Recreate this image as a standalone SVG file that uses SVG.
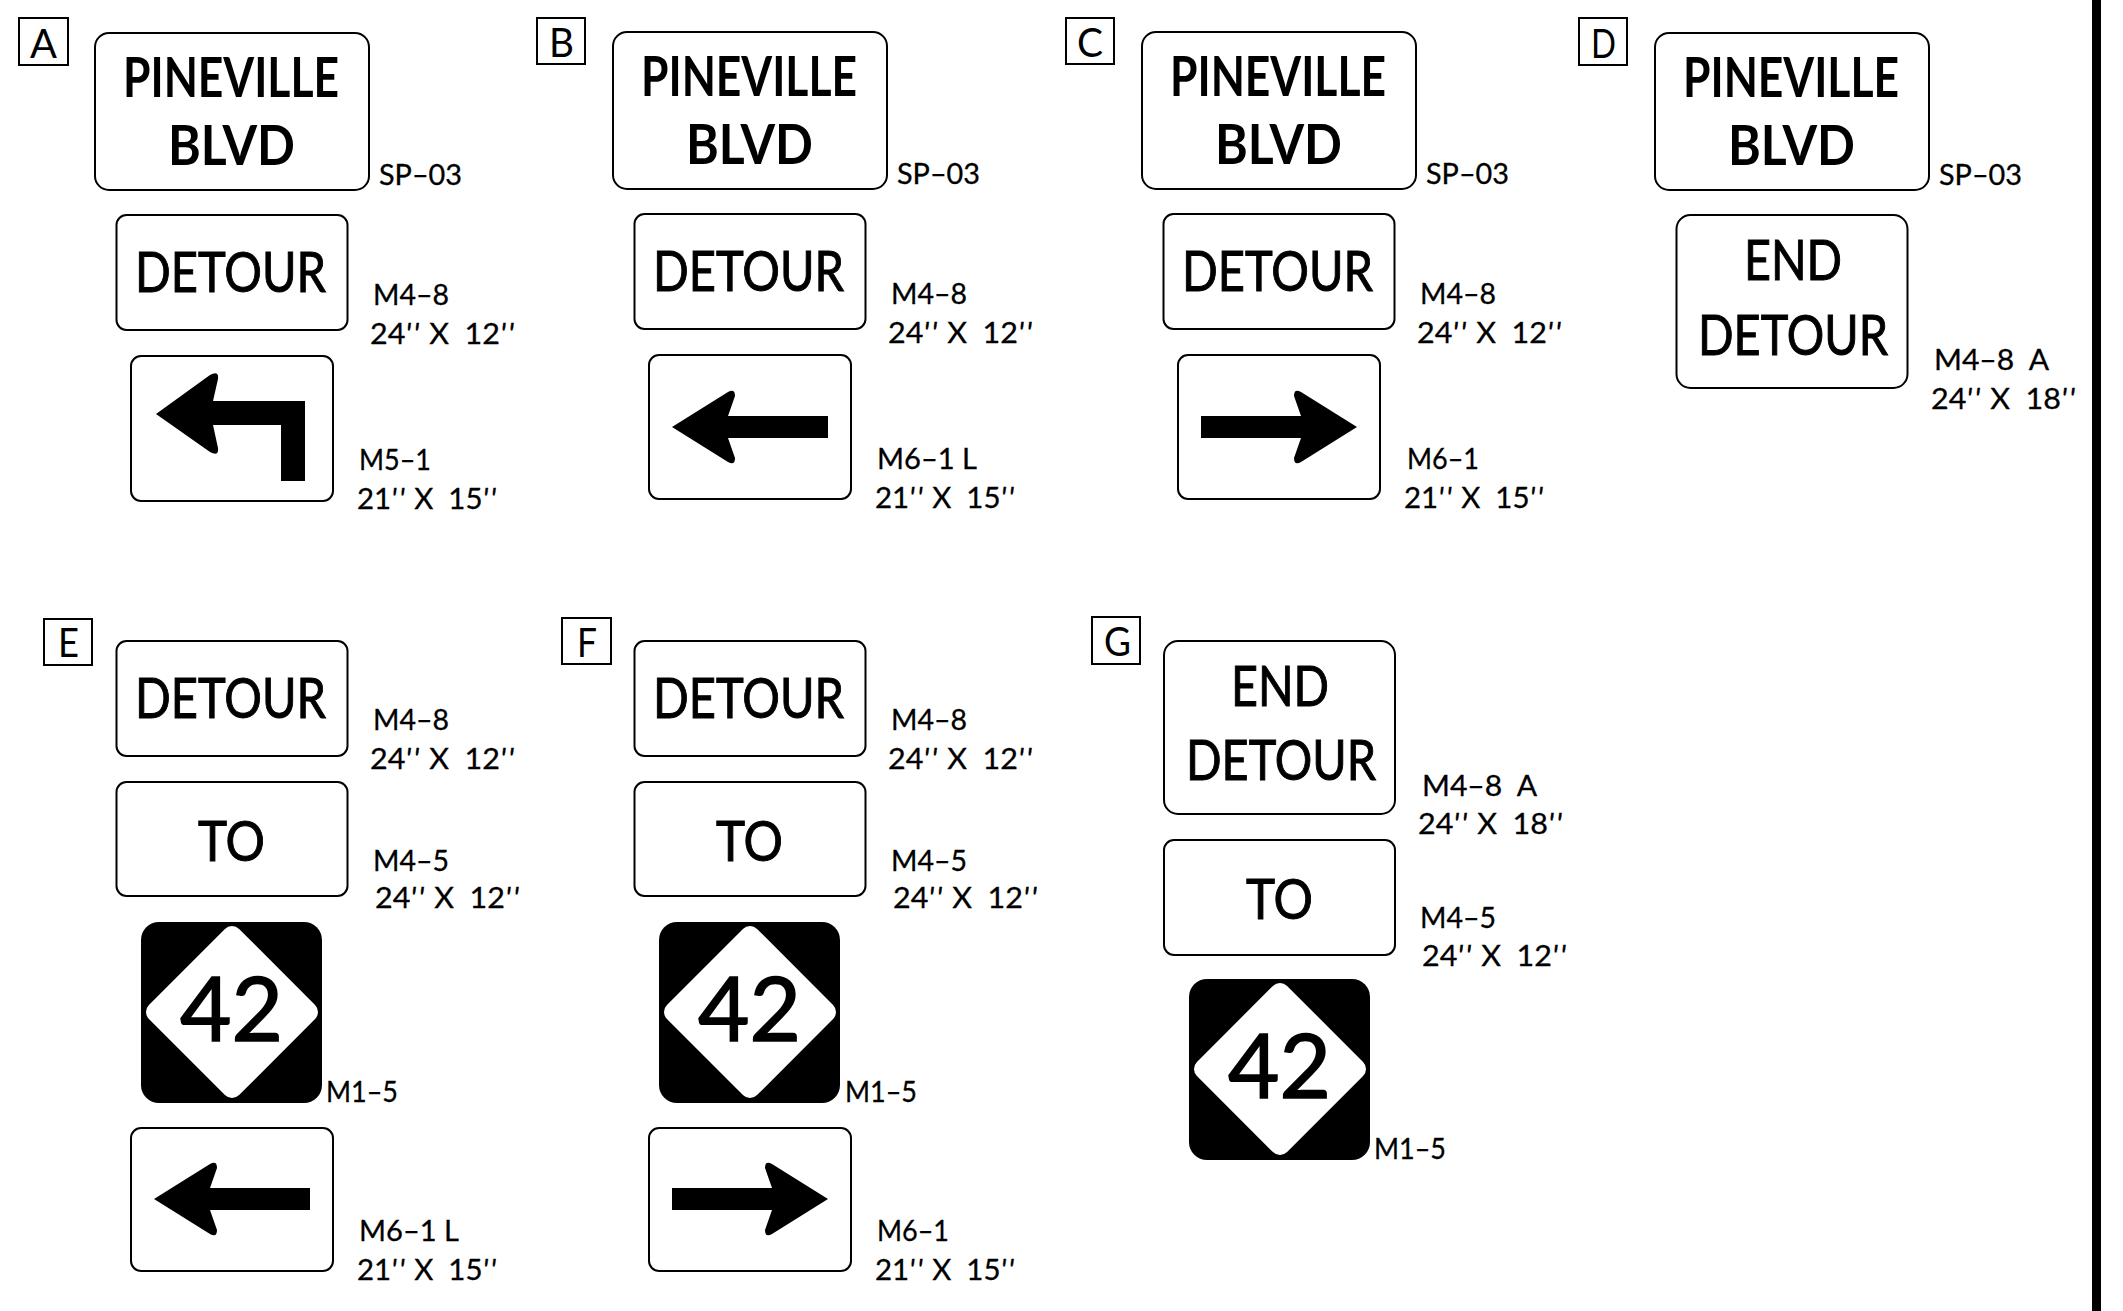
<svg xmlns="http://www.w3.org/2000/svg" width="2123" height="1311" viewBox="0 0 2123 1311">
<style>
text{font-family:"Lato","Liberation Sans",sans-serif;fill:#000;white-space:pre}
.s{fill:#fff;stroke:#000;stroke-width:2}
.l{fill:#fff;stroke:#000;stroke-width:2}
.t{font-size:56px;stroke:#000;stroke-width:1}
.h{font-size:56px;font-weight:700}
.n{font-size:29px;stroke:#000;stroke-width:.3}
.b{font-size:40px}
.r{font-size:90px;stroke:#000;stroke-width:1.6}
.i{font-style:italic;letter-spacing:2px}
</style>
<defs>
<path id="arrowL" d="M-78 0L-22 -35Q-15 -39 -15 -31L-22 -11H78V11H-22L-15 31Q-15 39 -22 35Z" fill="#000"/>
<g id="route">
<rect x="-91" y="-90" width="181" height="181" rx="18" fill="#000"/>
<polygon points="0,-76 76,0 0,76 -76,0" fill="#fff" stroke="#fff" stroke-width="20" stroke-linejoin="round"/>
</g>
</defs>
<rect width="2123" height="1311" fill="#fff"/>
<rect id="bar" x="2092" y="0" width="9" height="1311" fill="#000"/>

<g id="column-a">
<g id="a-label"><rect class="l" x="19" y="18" width="49" height="47"/><text class="b" x="30" y="58" textLength="27" lengthAdjust="spacingAndGlyphs">A</text></g>
<g id="a-street"><rect class="s" x="95" y="33" width="274" height="157" rx="14"/><text class="h" x="123" y="97" textLength="216" lengthAdjust="spacingAndGlyphs">PINEVILLE</text><text class="h" x="168" y="165" textLength="127" lengthAdjust="spacingAndGlyphs">BLVD</text><text class="n" x="379" y="185" textLength="83" lengthAdjust="spacingAndGlyphs">SP–03</text></g>
<g id="a-detour"><rect class="s" x="116.500" y="215" width="231" height="115" rx="10"/><text class="t" x="135" y="292" textLength="191" lengthAdjust="spacingAndGlyphs">DETOUR</text><text class="n" x="373" y="305" textLength="76" lengthAdjust="spacingAndGlyphs">M4–8</text><text class="n" x="370" y="344" textLength="146" lengthAdjust="spacingAndGlyphs">24<tspan class="i">''</tspan> X  12<tspan class="i">''</tspan></text></g>
<g id="a-arrow"><rect class="s" x="131" y="356" width="202" height="145" rx="10"/><path d="M156 414L210 375Q219 370 218 379L213 401H305V481H281V425H213L218 448Q219 457 210 452Z" fill="#000"/><text class="n" x="359" y="470" textLength="72" lengthAdjust="spacingAndGlyphs">M5–1</text><text class="n" x="357" y="509" textLength="141" lengthAdjust="spacingAndGlyphs">21<tspan class="i">''</tspan> X  15<tspan class="i">''</tspan></text></g>
</g>

<g id="column-b">
<g id="b-label"><rect class="l" x="537" y="18" width="48" height="46"/><text class="b" x="549" y="57" textLength="25" lengthAdjust="spacingAndGlyphs">B</text></g>
<g id="b-street"><rect class="s" x="613" y="32" width="274" height="157" rx="14"/><text class="h" x="641" y="96" textLength="216" lengthAdjust="spacingAndGlyphs">PINEVILLE</text><text class="h" x="686" y="164" textLength="127" lengthAdjust="spacingAndGlyphs">BLVD</text><text class="n" x="897" y="184" textLength="83" lengthAdjust="spacingAndGlyphs">SP–03</text></g>
<g id="b-detour"><rect class="s" x="634.500" y="214" width="231" height="115" rx="10"/><text class="t" x="653" y="291" textLength="191" lengthAdjust="spacingAndGlyphs">DETOUR</text><text class="n" x="891" y="304" textLength="76" lengthAdjust="spacingAndGlyphs">M4–8</text><text class="n" x="888" y="343" textLength="146" lengthAdjust="spacingAndGlyphs">24<tspan class="i">''</tspan> X  12<tspan class="i">''</tspan></text></g>
<g id="b-arrow"><rect class="s" x="649" y="355" width="202" height="144" rx="10"/><use href="#arrowL" transform="translate(750 427)"/><text class="n" x="877" y="469" textLength="100" lengthAdjust="spacingAndGlyphs">M6–1 L</text><text class="n" x="875" y="508" textLength="141" lengthAdjust="spacingAndGlyphs">21<tspan class="i">''</tspan> X  15<tspan class="i">''</tspan></text></g>
</g>

<g id="column-c">
<g id="c-label"><rect class="l" x="1066" y="18" width="48" height="46"/><text class="b" x="1077" y="57" textLength="26" lengthAdjust="spacingAndGlyphs">C</text></g>
<g id="c-street"><rect class="s" x="1142" y="32" width="274" height="157" rx="14"/><text class="h" x="1170" y="96" textLength="216" lengthAdjust="spacingAndGlyphs">PINEVILLE</text><text class="h" x="1215" y="164" textLength="127" lengthAdjust="spacingAndGlyphs">BLVD</text><text class="n" x="1426" y="184" textLength="83" lengthAdjust="spacingAndGlyphs">SP–03</text></g>
<g id="c-detour"><rect class="s" x="1163.500" y="214" width="231" height="115" rx="10"/><text class="t" x="1182" y="291" textLength="191" lengthAdjust="spacingAndGlyphs">DETOUR</text><text class="n" x="1420" y="304" textLength="76" lengthAdjust="spacingAndGlyphs">M4–8</text><text class="n" x="1417" y="343" textLength="146" lengthAdjust="spacingAndGlyphs">24<tspan class="i">''</tspan> X  12<tspan class="i">''</tspan></text></g>
<g id="c-arrow"><rect class="s" x="1178" y="355" width="202" height="144" rx="10"/><use href="#arrowL" transform="translate(1279 427) scale(-1 1)"/><text class="n" x="1407" y="469" textLength="72" lengthAdjust="spacingAndGlyphs">M6–1</text><text class="n" x="1404" y="508" textLength="141" lengthAdjust="spacingAndGlyphs">21<tspan class="i">''</tspan> X  15<tspan class="i">''</tspan></text></g>
</g>

<g id="column-d">
<g id="d-label"><rect class="l" x="1579" y="18" width="48" height="47"/><text class="b" x="1591" y="58" textLength="25" lengthAdjust="spacingAndGlyphs">D</text></g>
<g id="d-street"><rect class="s" x="1655" y="33" width="274" height="157" rx="14"/><text class="h" x="1683" y="97" textLength="216" lengthAdjust="spacingAndGlyphs">PINEVILLE</text><text class="h" x="1728" y="165" textLength="127" lengthAdjust="spacingAndGlyphs">BLVD</text><text class="n" x="1939" y="185" textLength="83" lengthAdjust="spacingAndGlyphs">SP–03</text></g>
<g id="d-end"><rect class="s" x="1676.500" y="215" width="231" height="173" rx="14"/><text class="t" x="1744" y="280" textLength="98" lengthAdjust="spacingAndGlyphs">END</text><text class="t" x="1698" y="355" textLength="190" lengthAdjust="spacingAndGlyphs">DETOUR</text><text class="n" x="1934" y="370" textLength="115" lengthAdjust="spacingAndGlyphs">M4–8  A</text><text class="n" x="1931" y="409" textLength="146" lengthAdjust="spacingAndGlyphs">24<tspan class="i">''</tspan> X  18<tspan class="i">''</tspan></text></g>
</g>

<g id="column-e">
<g id="e-label"><rect class="l" x="44" y="619" width="48" height="46"/><text class="b" x="58" y="657" textLength="21" lengthAdjust="spacingAndGlyphs">E</text></g>
<g id="e-detour"><rect class="s" x="116.500" y="641" width="231" height="115" rx="10"/><text class="t" x="135" y="718" textLength="191" lengthAdjust="spacingAndGlyphs">DETOUR</text><text class="n" x="373" y="730" textLength="76" lengthAdjust="spacingAndGlyphs">M4–8</text><text class="n" x="370" y="769" textLength="146" lengthAdjust="spacingAndGlyphs">24<tspan class="i">''</tspan> X  12<tspan class="i">''</tspan></text></g>
<g id="e-to"><rect class="s" x="116.500" y="782" width="231" height="114" rx="10"/><text class="t" x="198" y="861" textLength="67" lengthAdjust="spacingAndGlyphs">TO</text><text class="n" x="373" y="871" textLength="76" lengthAdjust="spacingAndGlyphs">M4–5</text><text class="n" x="375" y="908" textLength="146" lengthAdjust="spacingAndGlyphs">24<tspan class="i">''</tspan> X  12<tspan class="i">''</tspan></text></g>
<g id="e-route"><use href="#route" transform="translate(232 1012)"/><text class="r" x="180" y="1041" textLength="103" lengthAdjust="spacingAndGlyphs">42</text><text class="n" x="326" y="1102" textLength="72" lengthAdjust="spacingAndGlyphs">M1–5</text></g>
<g id="e-arrow"><rect class="s" x="131" y="1128" width="202" height="143" rx="10"/><use href="#arrowL" transform="translate(232 1199)"/><text class="n" x="359" y="1241" textLength="100" lengthAdjust="spacingAndGlyphs">M6–1 L</text><text class="n" x="357" y="1280" textLength="141" lengthAdjust="spacingAndGlyphs">21<tspan class="i">''</tspan> X  15<tspan class="i">''</tspan></text></g>
</g>

<g id="column-f">
<g id="f-label"><rect class="l" x="562" y="618" width="49" height="46"/><text class="b" x="577" y="657" textLength="20" lengthAdjust="spacingAndGlyphs">F</text></g>
<g id="f-detour"><rect class="s" x="634.500" y="641" width="231" height="115" rx="10"/><text class="t" x="653" y="718" textLength="191" lengthAdjust="spacingAndGlyphs">DETOUR</text><text class="n" x="891" y="730" textLength="76" lengthAdjust="spacingAndGlyphs">M4–8</text><text class="n" x="888" y="769" textLength="146" lengthAdjust="spacingAndGlyphs">24<tspan class="i">''</tspan> X  12<tspan class="i">''</tspan></text></g>
<g id="f-to"><rect class="s" x="634.500" y="782" width="231" height="114" rx="10"/><text class="t" x="716" y="861" textLength="67" lengthAdjust="spacingAndGlyphs">TO</text><text class="n" x="891" y="871" textLength="76" lengthAdjust="spacingAndGlyphs">M4–5</text><text class="n" x="893" y="908" textLength="146" lengthAdjust="spacingAndGlyphs">24<tspan class="i">''</tspan> X  12<tspan class="i">''</tspan></text></g>
<g id="f-route"><use href="#route" transform="translate(750 1012)"/><text class="r" x="698" y="1041" textLength="103" lengthAdjust="spacingAndGlyphs">42</text><text class="n" x="845" y="1102" textLength="72" lengthAdjust="spacingAndGlyphs">M1–5</text></g>
<g id="f-arrow"><rect class="s" x="649" y="1128" width="202" height="143" rx="10"/><use href="#arrowL" transform="translate(750 1199) scale(-1 1)"/><text class="n" x="877" y="1241" textLength="72" lengthAdjust="spacingAndGlyphs">M6–1</text><text class="n" x="875" y="1280" textLength="141" lengthAdjust="spacingAndGlyphs">21<tspan class="i">''</tspan> X  15<tspan class="i">''</tspan></text></g>
</g>

<g id="column-g">
<g id="g-label"><rect class="l" x="1092" y="617" width="48" height="47"/><text class="b" x="1104" y="656" textLength="27" lengthAdjust="spacingAndGlyphs">G</text></g>
<g id="g-end"><rect class="s" x="1164" y="641" width="231" height="173" rx="14"/><text class="t" x="1231" y="706" textLength="98" lengthAdjust="spacingAndGlyphs">END</text><text class="t" x="1186" y="780" textLength="190" lengthAdjust="spacingAndGlyphs">DETOUR</text><text class="n" x="1422" y="796" textLength="115" lengthAdjust="spacingAndGlyphs">M4–8  A</text><text class="n" x="1418" y="834" textLength="146" lengthAdjust="spacingAndGlyphs">24<tspan class="i">''</tspan> X  18<tspan class="i">''</tspan></text></g>
<g id="g-to"><rect class="s" x="1164" y="840" width="231" height="115" rx="10"/><text class="t" x="1246" y="919" textLength="67" lengthAdjust="spacingAndGlyphs">TO</text><text class="n" x="1420" y="928" textLength="76" lengthAdjust="spacingAndGlyphs">M4–5</text><text class="n" x="1422" y="966" textLength="146" lengthAdjust="spacingAndGlyphs">24<tspan class="i">''</tspan> X  12<tspan class="i">''</tspan></text></g>
<g id="g-route"><use href="#route" transform="translate(1280 1069)"/><text class="r" x="1228" y="1098" textLength="103" lengthAdjust="spacingAndGlyphs">42</text><text class="n" x="1374" y="1159" textLength="72" lengthAdjust="spacingAndGlyphs">M1–5</text></g>
</g>
</svg>
